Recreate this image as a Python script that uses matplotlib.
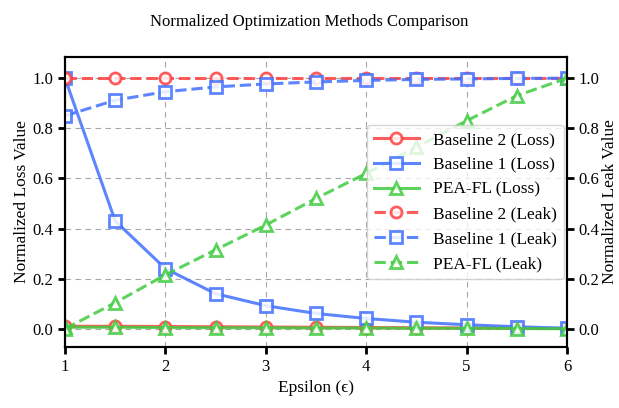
import matplotlib
matplotlib.use("Agg")
import matplotlib.pyplot as plt

plt.rcParams["font.family"] = ["Liberation Serif", "DejaVu Serif"]

epsilon = [1.0, 1.5, 2.0, 2.5, 3.0, 3.5, 4.0, 4.5, 5.0, 5.5, 6.0]

# normalized loss
loss_baseline2 = [0.010, 0.010, 0.009, 0.008, 0.007, 0.006, 0.005, 0.004, 0.003, 0.002, 0.001]
loss_baseline1 = [1.0, 0.43, 0.24, 0.14, 0.092, 0.061, 0.041, 0.026, 0.016, 0.008, 0.002]
loss_peafl = [0.006, 0.006, 0.005, 0.004, 0.004, 0.003, 0.003, 0.002, 0.002, 0.001, 0.0]

# normalized leak
leak_baseline2 = [1.0, 1.0, 1.0, 1.0, 1.0, 1.0, 1.0, 1.0, 1.0, 1.0, 1.0]
leak_baseline1 = [0.85, 0.912, 0.946, 0.965, 0.977, 0.985, 0.991, 0.995, 0.997, 0.999, 1.0]
leak_peafl = [0.0, 0.104, 0.215, 0.315, 0.414, 0.52, 0.62, 0.725, 0.83, 0.93, 1.0]

red = "#ff4040"
blue = "#4070ff"
green = "#40cc40"

fig, ax1 = plt.subplots(figsize=(6.19, 4.08), dpi=100)
fig.subplots_adjust(left=0.105, right=0.916, bottom=0.15, top=0.86)
ax2 = ax1.twinx()

style = dict(lw=2.2, ms=8, mew=2, mfc="white", alpha=0.85)
l1, = ax1.plot(epsilon, loss_baseline2, "-", marker="o", color=red, label="Baseline 2 (Loss)", **style)
l2, = ax1.plot(epsilon, loss_baseline1, "-", marker="s", color=blue, label="Baseline 1 (Loss)", **style)
l3, = ax1.plot(epsilon, loss_peafl, "-", marker="^", color=green, label="PEA-FL (Loss)", **style)
l4, = ax2.plot(epsilon, leak_baseline2, "--", marker="o", color=red, label="Baseline 2 (Leak)", **style)
l5, = ax2.plot(epsilon, leak_baseline1, "--", marker="s", color=blue, label="Baseline 1 (Leak)", **style)
l6, = ax2.plot(epsilon, leak_peafl, "--", marker="^", color=green, label="PEA-FL (Leak)", **style)

for ax in (ax1, ax2):
    ax.set_ylim(-0.072, 1.084)
    ax.set_yticks([0.0, 0.2, 0.4, 0.6, 0.8, 1.0])
    ax.tick_params(labelsize=12, width=2, length=5)
    for sp in ax.spines.values():
        sp.set_linewidth(1.5)
ax1.set_xlim(1, 6)
ax1.grid(True, linestyle=(0, (5, 4)), color="gray", alpha=0.7)

ax1.set_xlabel("Epsilon (ϵ)", fontsize=12.5)
ax1.set_ylabel("Normalized Loss Value", fontsize=12.5, labelpad=2)
ax2.set_ylabel("Normalized Leak Value", fontsize=12.5, labelpad=2)
fig.suptitle("Normalized Optimization Methods Comparison", fontsize=12, y=0.965)

lines = [l1, l2, l3, l4, l5, l6]
ax2.legend(lines, [l.get_label() for l in lines], loc="center right", fontsize=12.5,
           handlelength=2.6, borderaxespad=0.2)

fig.savefig("out.png", dpi=100)
